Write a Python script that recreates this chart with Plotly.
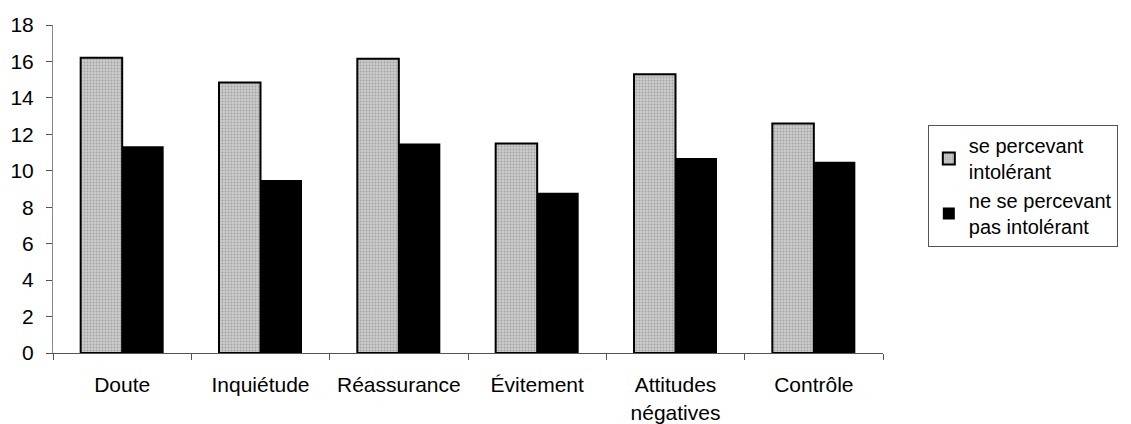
import plotly.graph_objects as go

categories = ["Doute", "Inquiétude", "Réassurance", "Évitement", "Attitudes<br>négatives", "Contrôle"]
intolerant = [16.2, 14.85, 16.15, 11.5, 15.3, 12.6]
non_intolerant = [11.35, 9.5, 11.5, 8.8, 10.7, 10.5]
series_names = ["se percevant<br>intolérant", "ne se percevant<br>pas intolérant"]
y_ticks = [0, 2, 4, 6, 8, 10, 12, 14, 16, 18]

FONT = "Liberation Sans, Arial, sans-serif"
FS = 21

fig = go.Figure()
fig.add_trace(go.Bar(
    x=categories, y=intolerant, name=series_names[0],
    marker=dict(color="#c4c4c4", line=dict(color="#000000", width=2),
                pattern=dict(shape=".", fgcolor="#7a7a7a", bgcolor="#cbcbcb", size=3, solidity=0.3)),
))
fig.add_trace(go.Bar(
    x=categories, y=non_intolerant, name=series_names[1],
    marker=dict(color="#000000", line=dict(color="#000000", width=0)),
))

# page body has an 8px default margin: figure is sized/offset to compensate
fig.update_layout(
    width=1123, height=416,
    margin=dict(l=45, r=248, t=17, b=71),
    paper_bgcolor="white", plot_bgcolor="white",
    barmode="group", bargap=0.4, bargroupgap=0,
    font=dict(family=FONT, size=FS, color="#000000"),
    showlegend=True,
    legend=dict(
        x=1.054, y=0.695, xanchor="left", yanchor="top",
        bordercolor="#555555", borderwidth=1, bgcolor="white",
        font=dict(family=FONT, size=FS - 1, color="#000000"),
        tracegroupgap=4, itemwidth=30, entrywidth=200,
    ),
)
fig.update_xaxes(
    automargin=False,
    showgrid=False, showline=True, linecolor="#555555", linewidth=1,
    ticks="outside", tickson="boundaries", ticklen=6, tickcolor="#555555",
    ticklabelstandoff=13, tickfont=dict(family=FONT, size=FS, color="#000000"),
)
fig.update_yaxes(
    automargin=False,
    range=[0, 18], tickvals=y_ticks, showgrid=False, zeroline=False,
    showline=True, linecolor="#888888", linewidth=1,
    ticks="outside", ticklen=6, tickcolor="#555555",
    ticklabelstandoff=8, tickfont=dict(family=FONT, size=FS, color="#000000"),
)

fig.write_html("out.html")
